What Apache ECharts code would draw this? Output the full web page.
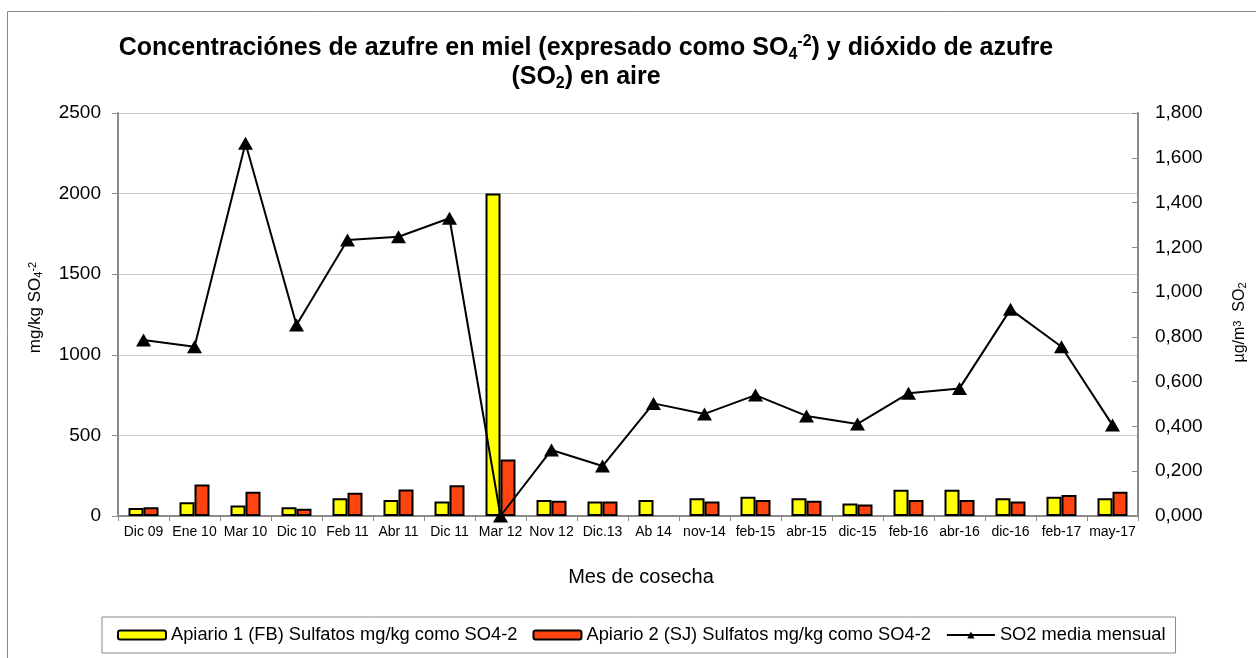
<!DOCTYPE html>
<html>
<head>
<meta charset="utf-8">
<script src="https://cdn.jsdelivr.net/npm/echarts@6/dist/echarts.min.js"></script>
<style>
html,body{margin:0;padding:0;background:#fff;}
#chart{width:1256px;height:658px;}
</style>
</head>
<body>
<div id="chart"></div>
<script>
const categories = ['Dic 09','Ene 10','Mar 10','Dic 10','Feb 11','Abr 11','Dic 11','Mar 12','Nov 12','Dic.13','Ab 14','nov-14','feb-15','abr-15','dic-15','feb-16','abr-16','dic-16','feb-17','may-17'];
const apiario1 = [50, 85, 65, 55, 110, 100, 90, 2000, 100, 90, 100, 110, 120, 110, 78, 163, 163, 110, 120, 110];
const apiario2 = [55, 195, 150, 45, 145, 165, 190, 350, 95, 90, null, 90, 100, 95, 72, 100, 100, 90, 130, 150];
const so2Media = [0.786, 0.756, 1.665, 0.853, 1.233, 1.247, 1.330, 0.000, 0.295, 0.223, 0.503, 0.456, 0.540, 0.447, 0.411, 0.548, 0.570, 0.923, 0.756, 0.406];
const leftTicks = {min: 0, max: 2500, interval: 500};
const rightTicks = {min: 0, max: 1.8, interval: 0.2};

const FONT = '"Liberation Sans", Arial, sans-serif';
const chart = echarts.init(document.getElementById('chart'), null, {renderer: 'canvas'});

const subSup = (size) => ({
  sub: {fontSize: size, lineHeight: size - 1, verticalAlign: 'bottom', fontFamily: FONT, color: '#000'},
  sup: {fontSize: size, lineHeight: size - 1, verticalAlign: 'top', fontFamily: FONT, color: '#000'}
});

const option = {
  backgroundColor: '#ffffff',
  animation: false,
  textStyle: {fontFamily: FONT, color: '#000'},
  graphic: [
    {type: 'rect', z: -10, silent: true, shape: {x: 7.5, y: 11.5, width: 1270, height: 670}, style: {fill: 'none', stroke: '#8a8a8a', lineWidth: 1}},
    {type: 'text', x: 586, y: 34, style: {
      text: '{b|Concentraciónes de azufre en miel (expresado como SO}{sub|4}{sup|-2}{b|) y dióxido de azufre}\n{b|(SO}{sub|2}{b|) en aire}',
      align: 'center', verticalAlign: 'top', fontFamily: FONT,
      rich: {
        b: {fontSize: 25, fontWeight: 'bold', fontFamily: FONT, lineHeight: 29, color: '#000'},
        sub: {fontSize: 16, fontWeight: 'bold', fontFamily: FONT, lineHeight: 13, verticalAlign: 'bottom', color: '#000'},
        sup: {fontSize: 16, fontWeight: 'bold', fontFamily: FONT, lineHeight: 13, verticalAlign: 'top', color: '#000'}
      }
    }}
  ],
  grid: {left: 118, right: 115, top: 113, bottom: 142, containLabel: false},
  legend: {
    left: 102, top: 617,
    padding: [9, 10, 9, 15],
    itemGap: 15,
    itemWidth: 48, itemHeight: 9,
    borderColor: '#8a8a8a', borderWidth: 1,
    textStyle: {fontSize: 18.3, fontFamily: FONT, color: '#000'},
    data: ['Apiario 1 (FB) Sulfatos mg/kg como SO4-2', 'Apiario 2 (SJ) Sulfatos mg/kg como SO4-2', 'SO2 media mensual']
  },
  xAxis: [
    {
      type: 'category',
      data: categories,
      name: 'Mes de cosecha',
      nameLocation: 'middle',
      nameGap: 51,
      nameTextStyle: {fontSize: 20, fontFamily: FONT, color: '#000', padding: [0, 0, 0, 26]},
      axisLine: {lineStyle: {color: '#8c8c8c', width: 2}},
      axisTick: {show: true, length: 5, lineStyle: {color: '#8c8c8c', width: 1}},
      axisLabel: {fontSize: 14, fontFamily: FONT, color: '#000', margin: 9, interval: 0}
    },
    {
      type: 'category', position: 'top', data: categories,
      axisLine: {show: true, lineStyle: {color: '#8c8c8c', width: 2}},
      axisTick: {show: false}, axisLabel: {show: false}, splitLine: {show: false}
    }
  ],
  yAxis: [
    {
      type: 'value', position: 'left',
      min: leftTicks.min, max: leftTicks.max, interval: leftTicks.interval,
      name: 'mg/kg SO{sub|4}{sup|-2}',
      nameLocation: 'middle', nameGap: 74,
      nameTextStyle: {fontSize: 17, fontFamily: FONT, color: '#000', padding: [0, 0, 0, 14], rich: subSup(11)},
      axisLine: {show: true, lineStyle: {color: '#8c8c8c', width: 2}},
      axisTick: {show: true, length: 6, lineStyle: {color: '#8c8c8c'}},
      axisLabel: {fontSize: 19, fontFamily: FONT, color: '#000', margin: 17, formatter: v => String(v)},
      splitLine: {show: true, lineStyle: {color: '#cbcbcb', width: 1}}
    },
    {
      type: 'value', position: 'right',
      min: rightTicks.min, max: rightTicks.max, interval: rightTicks.interval,
      name: 'µg/m{sup|3}  SO{sub|2}',
      nameLocation: 'middle', nameGap: 94,
      nameTextStyle: {fontSize: 16, fontFamily: FONT, color: '#000', padding: [0, 16, 0, 0], rich: subSup(11)},
      axisLine: {show: true, lineStyle: {color: '#8c8c8c', width: 2}},
      axisTick: {show: true, inside: true, length: 6, lineStyle: {color: '#8c8c8c'}},
      axisLabel: {fontSize: 19, fontFamily: FONT, color: '#000', margin: 17,
        formatter: v => v.toFixed(3).replace('.', ',')},
      splitLine: {show: false}
    }
  ],
  series: [
    {
      name: 'Apiario 1 (FB) Sulfatos mg/kg como SO4-2',
      type: 'bar', yAxisIndex: 0, data: apiario1,
      barWidth: 15, barGap: '0%',
      itemStyle: {color: '#ffff00', borderColor: '#000', borderWidth: 2}
    },
    {
      name: 'Apiario 2 (SJ) Sulfatos mg/kg como SO4-2',
      type: 'bar', yAxisIndex: 0, data: apiario2,
      barWidth: 15, barGap: '0%',
      itemStyle: {color: '#ff4411', borderColor: '#000', borderWidth: 2}
    },
    {
      name: 'SO2 media mensual',
      type: 'line', yAxisIndex: 1, data: so2Media,
      symbol: 'triangle', symbolSize: [15, 13],
      lineStyle: {color: '#000', width: 2},
      itemStyle: {color: '#000'},
      z: 5
    }
  ]
};
chart.setOption(option);
</script>
</body>
</html>
